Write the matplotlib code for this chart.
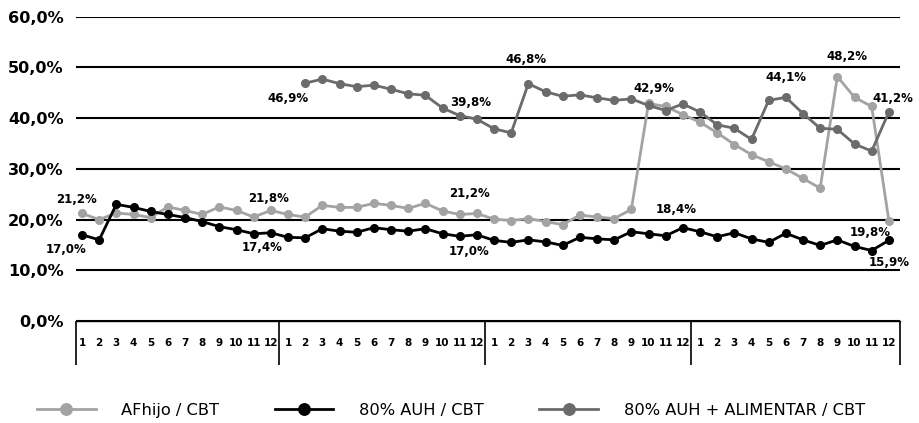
import numpy as np
import matplotlib
matplotlib.use("Agg")
import matplotlib.pyplot as plt

plt.rcParams['font.family'] = ['DejaVu Sans']

# 4 years x 12 months
months = list(range(1, 13)) * 4

afhijo = [21.2, 20.0, 21.3, 21.0, 20.4, 22.5, 21.8, 21.0, 22.5, 21.8, 20.5, 21.8,
          21.0, 20.5, 22.8, 22.4, 22.4, 23.2, 22.8, 22.2, 23.2, 21.7, 21.0, 21.2,
          20.1, 19.8, 20.2, 19.6, 19.0, 20.9, 20.5, 20.2, 22.0, 42.9, 42.3, 40.7,
          39.2, 37.1, 34.8, 32.8, 31.4, 30.0, 28.1, 26.2, 48.2, 44.1, 42.3, 19.8]

auh = [17.0, 16.0, 23.0, 22.4, 21.6, 21.0, 20.4, 19.6, 18.6, 18.0, 17.2, 17.4,
       16.5, 16.4, 18.2, 17.7, 17.5, 18.4, 18.0, 17.7, 18.2, 17.2, 16.7, 17.0,
       15.9, 15.5, 16.0, 15.6, 14.9, 16.5, 16.2, 16.0, 17.6, 17.2, 16.8, 18.4,
       17.6, 16.6, 17.4, 16.2, 15.5, 17.3, 16.0, 14.9, 16.0, 14.7, 13.9, 15.9]

alimentar = [np.nan] * 13 + [
    46.9, 47.7, 46.8, 46.2, 46.5, 45.7, 44.8, 44.5, 42.0, 40.5, 39.8,
    37.9, 37.1, 46.8, 45.2, 44.3, 44.6, 44.0, 43.5, 43.8, 42.5, 41.5, 42.8,
    41.2, 38.7, 38.0, 35.8, 43.5, 44.1, 40.9, 38.0, 37.8, 34.9, 33.5, 41.2]

names = ['AFhijo / CBT', '80% AUH / CBT', '80% AUH + ALIMENTAR / CBT']
colors = ['#a3a3a3', '#000000', '#6b6b6b']

# (series, month index, dx px, dy px) for the value labels
labels = [(0, 0, -6, -14), (0, 11, -2, -12), (0, 23, -7, -20), (0, 33, 5, -15),
          (0, 44, 10, -20), (0, 47, -19, 12),
          (1, 0, -16, 15), (1, 11, -9, 15), (1, 23, -8, 17), (1, 35, -7, -18),
          (1, 47, 0, 22),
          (2, 13, -17, 15), (2, 23, -6, -17), (2, 26, -2, -24), (2, 41, 0, -20),
          (2, 47, 4, -14)]

fig = plt.figure(figsize=(9.19, 4.23), dpi=100)
ax = fig.add_axes([76/919, 1-321/423, 824/919, (321-16.7)/423])

x = np.arange(48)
series = [afhijo, auh, alimentar]
for vals, c, n in zip(series, colors, names):
    ax.plot(x, vals, '-o', color=c, lw=2.0, ms=5.5, label=n, zorder=3)

for s, i, dx, dy in labels:
    v = series[s][i]
    ax.annotate(('%.1f%%' % v).replace('.', ','), (x[i], v),
                xytext=(dx*0.72, -dy*0.72), textcoords='offset points',
                ha='center', va='center', fontsize=8.5, fontweight='bold')

ax.set_ylim(0, 60)
ax.set_xlim(-0.35, 47.65)
ax.set_yticks(range(0, 61, 10))
ax.set_yticklabels(['%d,0%%' % t for t in range(0, 61, 10)],
                   fontsize=11.6, fontweight='bold')
ax.grid(axis='y', color='black', lw=1.5, zorder=1)
ax.set_axisbelow(True)
for sp in ['top', 'right', 'left']:
    ax.spines[sp].set_visible(False)
ax.spines['bottom'].set_linewidth(1.0)

ax.set_xticks(x)
ax.set_xticklabels([str(m) for m in months], fontsize=7.5, fontweight='bold')
ax.tick_params(axis='x', length=0, pad=12)
ax.tick_params(axis='y', length=0, pad=9)

# year separators under the axis
seps = [-0.35, 11.5, 23.5, 35.5, 47.65]
ax.vlines(seps, -44/304.3, 0, transform=ax.get_xaxis_transform(),
          color='black', lw=1.2, clip_on=False)

fig.legend(loc='center left', bbox_to_anchor=(37/919, 1-410/423), ncol=3,
           frameon=False, fontsize=11.7, handlelength=3.6, handletextpad=1.6,
           columnspacing=3.4, markerscale=1.5, borderpad=0, borderaxespad=0)

fig.savefig('out.png', dpi=100)
